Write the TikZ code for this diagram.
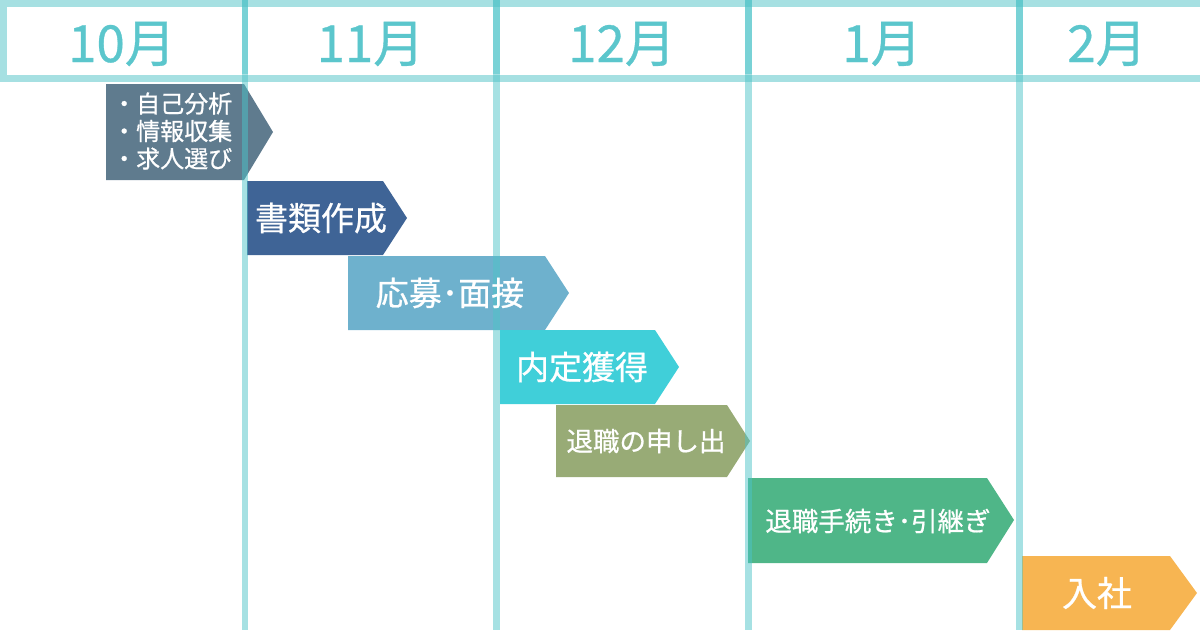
\documentclass[tikz,border=0pt]{standalone}
\usepackage{fontspec}
\setmainfont{Noto Sans CJK JP}
\newfontfamily\medfont[FakeBold=0.7]{Noto Sans CJK JP}
\definecolor{gridline}{HTML}{4DC3C8}
\definecolor{frameline}{HTML}{A6E0E2}
\definecolor{monthtext}{HTML}{5BC6CC}
\definecolor{prepc}{HTML}{5F7B8E}
\definecolor{docc}{HTML}{3F6496}
\definecolor{applyc}{HTML}{6EB1CD}
\definecolor{offerc}{HTML}{40CFD9}
\definecolor{resignc}{HTML}{98AB76}
\definecolor{handoverc}{HTML}{4FB688}
\definecolor{joinc}{HTML}{F7B552}

\begin{document}
\begin{tikzpicture}[x=1pt,y=-1pt,
  month/.style={text=monthtext,inner sep=0pt,font=\medfont\fontsize{51}{51}\selectfont},
  lbl/.style={text=white,inner sep=0pt,font=\medfont\fontsize{33}{33}\selectfont},
  small lbl/.style={lbl,font=\medfont\fontsize{26.5}{26.5}\selectfont},
  vline/.style={draw=gridline,opacity=.5,line width=6.5pt}]
\useasboundingbox (0,0) rectangle (1200,630);
% header frame
\draw[frameline,line width=7pt] (1210,3) -- (3.5,3) -- (3.5,78) -- (1210,78);
\node[month] (m10) at (122,44) {10月};
\node[month] (m11) at (370.5,44) {11月};
\node[month] (m12) at (622,44) {12月};
\node[month] (m1) at (882,44) {1月};
\node[month] (m2) at (1107,44) {2月};
% steps
\fill[prepc] (106,84) -- (244,84) -- (273,132) -- (244,180) -- (106,180) -- cycle;
\fill[docc] (247,181) -- (383,181) -- (407,218) -- (383,255) -- (247,255) -- cycle;
\fill[applyc] (348,256) -- (545,256) -- (569,293) -- (545,330) -- (348,330) -- cycle;
\fill[offerc] (500,330) -- (655,330) -- (679,367) -- (655,404) -- (500,404) -- cycle;
\fill[resignc] (556,405) -- (727,405) -- (750,441) -- (727,477) -- (556,477) -- cycle;
\fill[handoverc] (748,478) -- (987,478) -- (1014,520) -- (987,563) -- (748,563) -- cycle;
\fill[joinc] (1022,556) -- (1170,556) -- (1197,593) -- (1170,630) -- (1022,630) -- cycle;
% month grid
\foreach \gx in {245,496.5,748.5,1019.5} {
  \draw[vline] (\gx,0) -- (\gx,630);
  \draw[vline] (\gx,0) -- (\gx,74);
}
% labels
\node[lbl,anchor=west,align=left,font=\medfont\fontsize{24}{27.5}\selectfont] (jiko) at (112,131) {・自己分析\\・情報収集\\・求人選び};
\node[lbl] (shorui) at (321,218) {書類作成};
\node[lbl] (oubo) at (450,293) {応募･面接};
\node[lbl] (naitei) at (582,367) {内定獲得};
\node[small lbl] (moushide) at (646,441) {退職の申し出};
\node[small lbl] (tetsuzuki) at (878,521) {退職手続き･引継ぎ};
\node[lbl,font=\medfont\fontsize{35}{35}\selectfont] (nyusha) at (1097,593) {入社};
\end{tikzpicture}
\end{document}
